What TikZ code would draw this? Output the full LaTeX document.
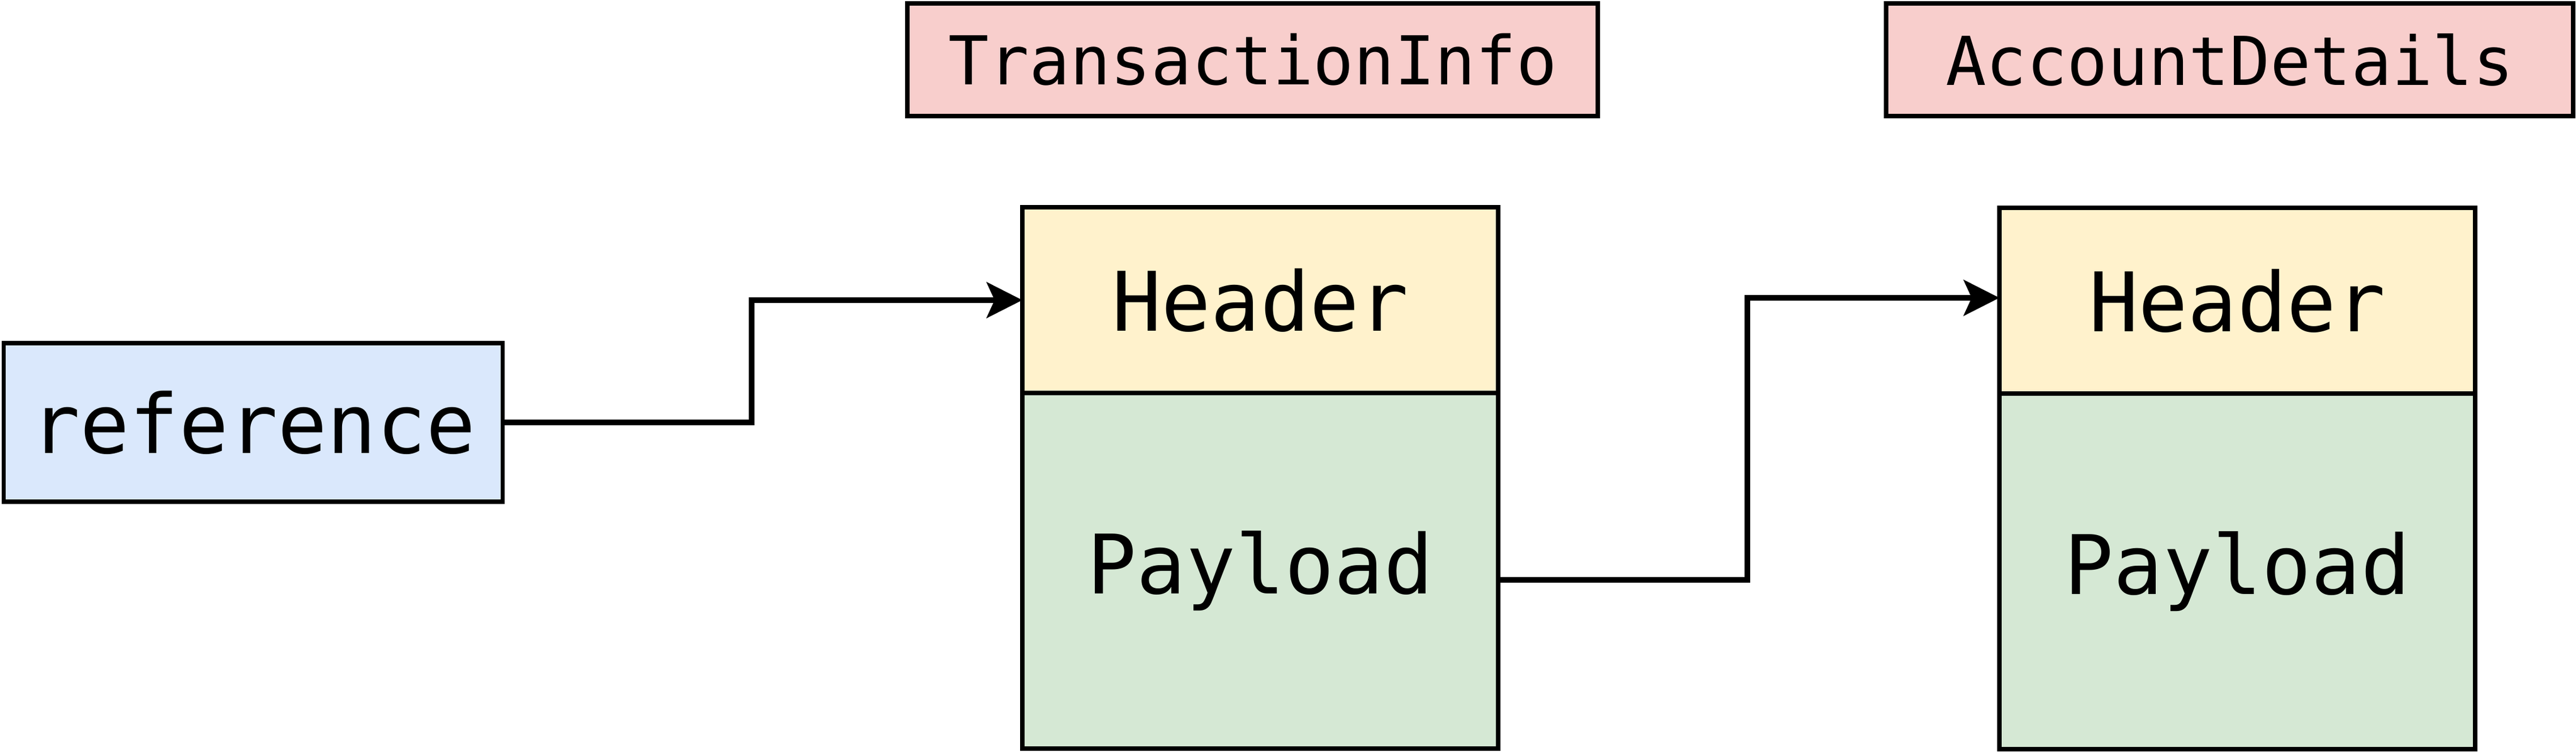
\documentclass[tikz,border=0pt]{standalone}
\usepackage{fontspec}
\newfontfamily\codefont{DejaVu Sans Mono}
\usepackage{xcolor}
\usepackage{tikz}
\usetikzlibrary{positioning,calc,arrows.meta}

\definecolor{refblue}{HTML}{DAE8FC}
\definecolor{hdryellow}{HTML}{FFF2CC}
\definecolor{paygreen}{HTML}{D5E8D4}
\definecolor{tagred}{HTML}{F8CECC}

\begin{document}
\begin{tikzpicture}[x=1pt, y=1pt,
    box/.style={rectangle, draw=black, line width=0.75pt, outer sep=0pt, inner sep=0pt, align=center, font=\codefont\fontsize{14.5}{17}\selectfont},
    tag/.style={box, fill=tagred, minimum height=19.9pt, font=\codefont\fontsize{11.9}{14}\selectfont},
    hdr/.style={box, fill=hdryellow, minimum width=84pt, minimum height=32.8pt},
    pay/.style={box, fill=paygreen, minimum width=84pt, minimum height=62.8pt},
    arrow/.style={-{Stealth[length=6.3pt, width=6.3pt, inset=1.4pt]}, line width=1pt}
]
\useasboundingbox (0,0) rectangle (454.8,-132.8);

% Boxes
\node[box, fill=refblue, minimum width=88.1pt, minimum height=28pt] (ref) at (44.7,-74.6) {reference};

\node[tag, minimum width=121.9pt] (tagA) at (221.15,-10.55) {TransactionInfo};
\node[tag, minimum width=121.3pt] (tagB) at (393.65,-10.55) {AccountDetails};

\node[hdr] (hdrA) at (222.5,-53.0) {Header};
\node[pay, below=0pt of hdrA] (payA) {Payload};

\node[hdr] (hdrB) at (395.0,-53.1) {Header};
\node[pay, below=0pt of hdrB] (payB) {Payload};

% Arrows
\draw[arrow] (ref.east) -- ++(43.9,0) |- (hdrA.west);
\draw[arrow] ([yshift=-1.6pt]payA.east) -- ++(44.0,0) |- ([yshift=0.5pt]hdrB.west);

\end{tikzpicture}
\end{document}
